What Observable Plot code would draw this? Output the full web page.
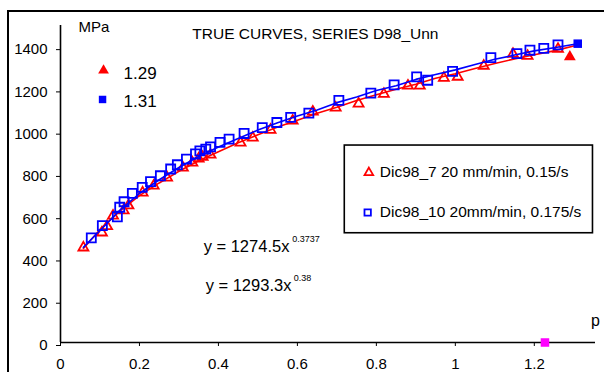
<!DOCTYPE html>
<html><head><meta charset="utf-8">
<script src="https://cdn.jsdelivr.net/npm/d3@7"></script>
<script src="https://cdn.jsdelivr.net/npm/@observablehq/plot@0.6"></script>
<style>
body{margin:0;background:#fff;}
#wrap{position:relative;width:604px;height:372px;overflow:hidden;background:#fff;}
#border{position:absolute;left:7px;top:10px;width:700px;height:500px;border-left:2px solid #000;border-top:2px solid #000;pointer-events:none;}
</style></head><body><div id="wrap"><div id="border"></div></div>
<script>
// Series 1: Dic98_7 (red open triangles)
const triX = [0.058,0.105,0.118,0.133,0.16,0.172,0.208,0.236,0.27,0.31,0.334,0.35,0.36,0.38,0.456,0.487,0.532,0.588,0.639,0.697,0.755,0.819,0.88,0.91,0.971,1.006,1.072,1.146,1.183,1.26];
const triY = [449,520,550,600,625,648,709,742,780,827,851,870,878,888,945,969,1006,1049,1092,1111,1130,1176,1215,1215,1252,1257,1309,1365,1356,1389];
// Series 2: Dic98_10 (blue open squares)
const sqX = [0.078,0.106,0.144,0.150,0.161,0.182,0.207,0.228,0.253,0.279,0.296,0.319,0.342,0.353,0.368,0.38,0.404,0.427,0.465,0.511,0.548,0.583,0.629,0.705,0.786,0.845,0.902,0.93,0.993,1.09,1.156,1.189,1.224,1.26];
const sqY = [495,553,595,640,666,706,734,761,789,821,841,868,892,907,915,926,947,962,989,1017,1041,1065,1085,1146,1180,1219,1257,1241,1283,1348,1367,1383,1392,1408];
// Raw curves
const redLineX = [0.058,0.1,0.15,0.2,0.25,0.3,0.35,0.4,0.45,0.5,0.55,0.6,0.65,0.7,0.75,0.8,0.85,0.9,0.95,1.0,1.05,1.1,1.15,1.2,1.25,1.31];
const redLineY = [445,535,622,695,755,810,860,903,945,983,1020,1052,1085,1113,1145,1172,1198,1222,1250,1272,1297,1320,1342,1362,1380,1408];
const blueLineX = [0.058,0.1,0.15,0.2,0.25,0.3,0.35,0.4,0.45,0.5,0.55,0.6,0.65,0.7,0.75,0.8,0.85,0.9,0.95,1.0,1.05,1.1,1.15,1.2,1.25,1.31];
const blueLineY = [450,530,625,705,770,828,880,925,965,1005,1040,1072,1100,1135,1162,1192,1215,1245,1268,1290,1315,1340,1360,1380,1395,1414];
// End points (legend 1.29 / 1.31)
const endTriX = [1.29], endTriY = [1352];
const endSqX = [1.31], endSqY = [1414];
// Extra marker on the axis
const magX = [1.227], magY = [0];
// Ticks
const xTicks = [0,0.2,0.4,0.6,0.8,1,1.2];
const yTicks = [0,200,400,600,800,1000,1200,1400];
const title = "TRUE CURVES, SERIES D98_Unn";
const legendLabels = ["Dic98_7 20 mm/min, 0.15/s", "Dic98_10 20mm/min, 0.175/s"];
const fit1 = ["y = 1274.5x", "0.3737"];
const fit2 = ["y = 1293.3x", "0.38"];

const RED = "#ff0000", BLUE = "#0000ff";
const FONT = '"Liberation Sans", Arial, Helvetica, sans-serif';
const txt = (s, o) => Plot.text([s], {text: d => d, textAnchor: "start", lineAnchor: "bottom", fill: "#000", ...o});

const chart = Plot.plot({
  width: 604, height: 372,
  marginLeft: 60, marginRight: 9, marginTop: 25, marginBottom: 30,
  style: {fontFamily: FONT, fontSize: "15px", background: "transparent", color: "#000", overflow: "visible"},
  x: {domain: [0, 1.355]},
  y: {domain: [0, 1500]},
  marks: [
    Plot.axisX({ticks: xTicks, tickSize: 4, tickPadding: 12, tickFormat: d => String(+d.toFixed(1)), label: null, fontSize: 15}),
    Plot.axisY({ticks: yTicks, tickSize: 4, tickPadding: 9, tickFormat: d => String(d), label: null, fontSize: 15, dy: 3}),
    Plot.ruleX([0], {y1: 0, y2: 1500, stroke: "#000", strokeWidth: 1.6}),
    Plot.ruleY([0], {x1: 0, x2: 1.355, stroke: "#000", strokeWidth: 1.6}),
    Plot.line(redLineX, {x: redLineX, y: redLineY, stroke: RED, strokeWidth: 1.6}),
    Plot.dot(triX, {x: triX, y: triY, symbol: "triangle", r: 3.7, stroke: RED, strokeWidth: 1.8, fill: "none"}),
    Plot.line(blueLineX, {x: blueLineX, y: blueLineY, stroke: BLUE, strokeWidth: 1.6}),
    Plot.dot(sqX, {x: sqX, y: sqY, symbol: "square", r: 5.1, stroke: BLUE, strokeWidth: 1.8, fill: "none"}),
    Plot.dot(endTriX, {x: endTriX, y: endTriY, symbol: "triangle", r: 4.4, fill: RED}),
    Plot.dot(endSqX, {x: endSqX, y: endSqY, symbol: "square", r: 4.8, fill: BLUE}),
    Plot.dot(magX, {x: magX, y: magY, symbol: "square", r: 4.8, fill: "#ff00ff"}),
    // Annotations
    txt("MPa", {x: 0.0456, y: 1467, fontSize: 15}),
    txt(title, {x: 0.334, y: 1434, fontSize: 15.5}),
    Plot.dot([0], {x: 0.109, y: 1287, symbol: "triangle", r: 4, fill: RED}),
    txt(String(endTriX[0]), {x: 0.1597, y: 1248, fontSize: 17}),
    Plot.dot([0], {x: 0.1065, y: 1150, symbol: "square", r: 4.2, fill: BLUE}),
    txt(String(endSqX[0]), {x: 0.1597, y: 1113, fontSize: 17}),
    Plot.rect([0], {x1: 0.72, x2: 1.3486, y1: 517, y2: 932, fill: "#fff", stroke: "#000", strokeWidth: 1.6}),
    Plot.dot([0], {x: 0.781, y: 804, symbol: "triangle", r: 3.2, stroke: RED, strokeWidth: 1.8, fill: "none"}),
    txt(legendLabels[0], {x: 0.8086, y: 785, fontSize: 15.5}),
    Plot.dot([0], {x: 0.778, y: 615, symbol: "square", r: 3.6, stroke: BLUE, strokeWidth: 1.8, fill: "none"}),
    txt(legendLabels[1], {x: 0.8086, y: 593, fontSize: 15.5}),
    txt(fit1[0], {x: 0.3625, y: 427, fontSize: 16.5}),
    txt(fit1[1], {x: 0.587, y: 475, fontSize: 9}),
    txt(fit2[0], {x: 0.3676, y: 243, fontSize: 16.5}),
    txt(fit2[1], {x: 0.591, y: 293, fontSize: 9}),
    txt("p", {x: 1.3435, y: 78, fontSize: 16})
  ]
});
document.getElementById("wrap").prepend(chart);
</script>
</body></html>
